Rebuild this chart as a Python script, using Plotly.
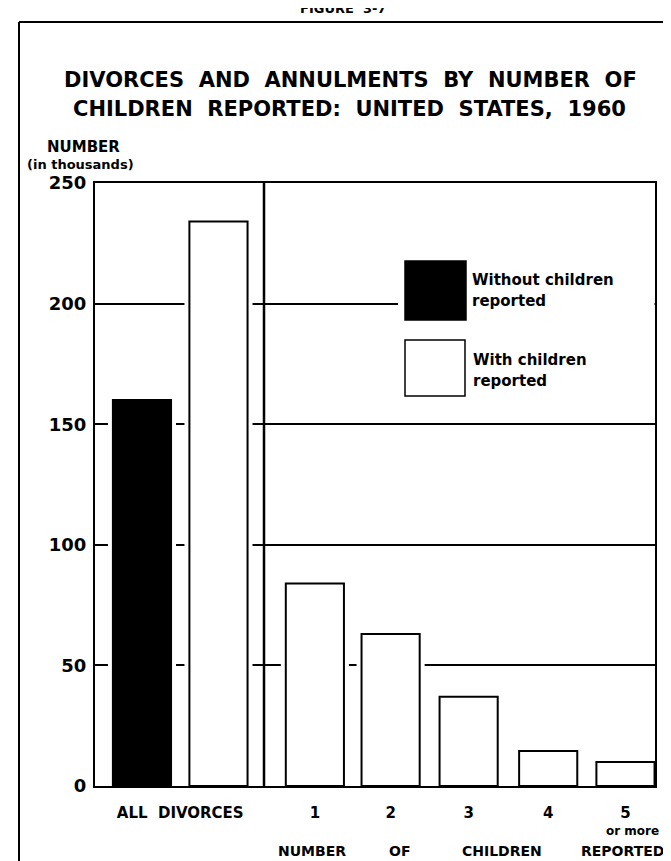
import plotly.graph_objects as go

# ---------------- data ----------------
all_label = "ALL\u00a0\u00a0DIVORCES"
without_children = [160]          # thousands, all divorces without children reported
with_children_total = [234]       # thousands, all divorces with children reported
children_labels = ["1", "2", "3", "4", "5"]
y_ticks = [0, 50, 100, 150, 200, 250]
with_children_by_number = [84, 63, 37, 14.5, 10]

# ---------------- layout positions (slot units) ----------------
pos_without = [0]
pos_with_total = [1]
pos_children = [2.26, 3.25, 4.27, 5.31, 6.32]
BAR_W = 0.76
HALO_W = 0.89
FONT = "DejaVu Sans"

fig = go.Figure()

# white halo behind every bar (breaks the grid lines around the bars)
fig.add_trace(go.Bar(
    x=pos_without + pos_with_total + pos_children,
    y=without_children + with_children_total + with_children_by_number,
    width=HALO_W, marker=dict(color="white", line=dict(width=0)),
    showlegend=False, hoverinfo="skip"))

fig.add_trace(go.Bar(
    x=pos_without, y=without_children, width=BAR_W, name="Without children reported",
    marker=dict(color="black", line=dict(color="black", width=2)), showlegend=False))
fig.add_trace(go.Bar(
    x=pos_with_total, y=with_children_total, width=BAR_W, name="With children reported",
    marker=dict(color="white", line=dict(color="black", width=2)), showlegend=False))
fig.add_trace(go.Bar(
    x=pos_children, y=with_children_by_number, width=BAR_W, name="With children reported",
    marker=dict(color="white", line=dict(color="black", width=2)), showlegend=False))

W, H = 671, 861
L, R, T, B = 87, 24, 175, 83
PW, PH = W - L - R, H - T - B


def px(xp):
    return (xp - L) / PW


def py(yp):
    return (H - B - yp) / PH


shapes = []
# divider between the two panels
shapes.append(dict(type="line", xref="paper", yref="paper", x0=px(256), x1=px(256),
                   y0=0, y1=1, line=dict(color="black", width=2.5), layer="above"))
# outer figure border (left and top)
shapes.append(dict(type="line", xref="paper", yref="paper", x0=px(11), x1=px(11),
                   y0=py(14), y1=py(870), line=dict(color="black", width=2)))
shapes.append(dict(type="line", xref="paper", yref="paper", x0=px(11), x1=px(680),
                   y0=py(14), y1=py(14), line=dict(color="black", width=2)))
# legend background and swatches
shapes.append(dict(type="rect", xref="paper", yref="paper", x0=px(390), x1=px(646.5),
                   y0=py(245), y1=py(398), fillcolor="white", line=dict(width=0), layer="above"))
shapes.append(dict(type="rect", xref="paper", yref="paper", x0=px(397), x1=px(458),
                   y0=py(253), y1=py(312), fillcolor="black", line=dict(color="black", width=1.5),
                   layer="above"))
shapes.append(dict(type="rect", xref="paper", yref="paper", x0=px(397), x1=px(457),
                   y0=py(332), y1=py(388), fillcolor="white", line=dict(color="black", width=1.5),
                   layer="above"))

ann = []


def text(t, xp, yp, size, bold=False, xanchor="center", yanchor="middle"):
    ann.append(dict(text=f"<b>{t}</b>" if bold else t, xref="paper", yref="paper",
                    x=px(xp), y=py(yp), xanchor=xanchor, yanchor=yanchor, showarrow=False,
                    font=dict(family=FONT, size=size, color="black")))


sp = "\u00a0\u00a0"
text("FIGURE" + sp + "3-7", 335, 10, 13, bold=True, yanchor="bottom")
text("DIVORCES" + sp + "AND" + sp + "ANNULMENTS" + sp + "BY" + sp + "NUMBER" + sp + "OF",
     342, 72, 21, bold=True)
text("CHILDREN" + sp + "REPORTED:" + sp + "UNITED" + sp + "STATES," + sp + "1960",
     341, 101, 21, bold=True)
text("NUMBER", 75, 139, 15, bold=True)
text("(in thousands)", 72, 156, 13, bold=True)
text("Without children", 462, 272, 15, bold=True, xanchor="left")
text("reported", 462, 293, 15, bold=True, xanchor="left")
text("With children", 463, 352, 15, bold=True, xanchor="left")
text("reported", 463, 373, 15, bold=True, xanchor="left")
text("or more", 624, 823, 12, bold=True)
text("NUMBER", 304, 843, 14, bold=True)
text("OF", 391, 843, 14, bold=True)
text("CHILDREN", 494, 843, 14, bold=True)
text("REPORTED", 614, 843, 14, bold=True)

fig.update_layout(
    width=W, height=H, margin=dict(l=L, r=R, t=T, b=B, autoexpand=False),
    paper_bgcolor="white", plot_bgcolor="white", barmode="overlay",
    shapes=shapes, annotations=ann, showlegend=False,
    font=dict(family=FONT, color="black"),
    xaxis=dict(range=[-0.614, 6.706], tickvals=[0.5] + pos_children,
               ticktext=[f"<b>{t}</b>" for t in [all_label] + children_labels],
               showgrid=False, zeroline=False,
               showline=True, mirror=True, linecolor="black", linewidth=2, ticks="",
               ticklabelstandoff=12, tickfont=dict(family=FONT, size=15, color="black")),
    yaxis=dict(range=[0, 250], tickvals=y_ticks, ticktext=[f"<b>{v}</b>" for v in y_ticks],
               showgrid=True, gridcolor="black",
               gridwidth=1.5, zeroline=False, showline=True, mirror=True, linecolor="black",
               linewidth=2, ticks="", ticklabelstandoff=3,
               tickfont=dict(family=FONT, size=18, color="black")),
)

fig.write_html("out.html")
